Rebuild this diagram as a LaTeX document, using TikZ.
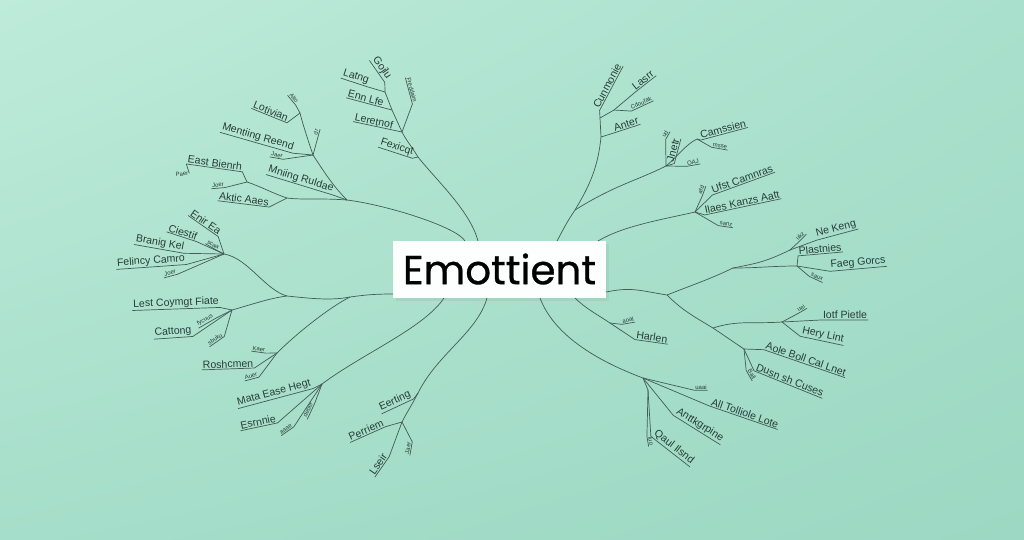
\documentclass[tikz,border=0pt]{standalone}
\usepackage{fontspec}
\setmainfont{Liberation Sans}
\newfontfamily\titlefont{Poppins}[FakeBold=0.7]
\usetikzlibrary{shadows,shadings}

\definecolor{mintA}{HTML}{BEEBDA}
\definecolor{mintB}{HTML}{A9E0CD}
\definecolor{mintC}{HTML}{A5DECA}
\definecolor{mintD}{HTML}{9CD8C3}
\definecolor{ink}{HTML}{425C56}
\definecolor{inkt}{HTML}{263C37}

\tikzset{
  twig/.style={draw=ink, line width=0.4pt},
  leaf/.style={text=inkt, font=\fontsize{6}{7}\selectfont, inner sep=0.4pt},
  tiny/.style={leaf, font=\fontsize{3.4}{4}\selectfont},
  hub/.style={fill=white!97!mintA, minimum width=4.26cm, minimum height=1.14cm,
    inner sep=0pt, font=\titlefont\fontsize{23}{27}\selectfont,
    drop shadow={opacity=.12, shadow xshift=1.5pt, shadow yshift=-2pt}}
}
% underline a label and tie it to its junction
\newcommand\lleaf[2]{\draw[twig] (#1.south west) -- (#1.south east) -- (#2);}
\newcommand\rleaf[2]{\draw[twig] (#1.south east) -- (#1.south west) -- (#2);}

\begin{document}
\begin{tikzpicture}[x=0.02cm,y=-0.02cm]
\useasboundingbox (0,0) rectangle (1024,539);
\shade[upper left=mintA, upper right=mintB, lower left=mintC, lower right=mintD]
  (0,0) rectangle (1024,539);

\node[hub] (hub) at (499.5,269) {Emottient};

% trunk ends on the box
\coordinate (b1) at (478,241);
\coordinate (b2) at (465,241);
\coordinate (b3) at (393,294);
\coordinate (b4) at (444,298);
\coordinate (b5) at (487,298);
\coordinate (b6) at (557,241);
\coordinate (b7) at (598,241);
\coordinate (b8) at (606,292);
\coordinate (b9) at (575,298);
\coordinate (b10) at (540,298);

% top left, tall one
\coordinate (t1a) at (418,157);
\coordinate (t1b) at (402,132);
\coordinate (t1c) at (392,110);
\coordinate (t1d) at (385,92);
\draw[twig] (b1) .. controls +(-8,-30) and +(20,25) .. (t1a)
  .. controls +(-6,-10) and +(4,8) .. (t1b) -- (t1c) -- (t1d);
\node[leaf, rotate=-18] (fex) at (397,147) {Fexicqt};
\node[leaf, rotate=-12] (ler) at (374,121) {Leretnof};
\node[leaf, rotate=-15] (enn) at (366,98) {Enn Lfe};
\node[leaf, rotate=-18] (lat) at (356,77) {Latng};
\node[leaf, rotate=-55] (goj) at (382,68) {Gojlu};
\node[tiny, rotate=-75] (frd) at (412,90) {Freddaim};
\lleaf{fex}{t1a} \lleaf{ler}{t1b} \lleaf{enn}{t1c} \lleaf{lat}{t1d}
\lleaf{goj}{t1d} \lleaf{frd}{t1b}

% top left, wide one
\coordinate (t2a) at (347,200);
\coordinate (t2b) at (287,198);
\coordinate (t2c) at (247,182);
\coordinate (t2d) at (313,155);
\coordinate (t2e) at (300,113);
\draw[twig] (b2) .. controls +(-8,-14) and +(40,5) .. (t2a)
  .. controls +(-15,-15) and +(10,15) .. (t2d)
  .. controls +(-5,-15) and +(3,12) .. (t2e);
\draw[twig] (t2a) .. controls +(-25,-2) and +(15,2) .. (t2b)
  .. controls +(-15,-5) and +(15,5) .. (t2c);
\node[leaf, rotate=-17] (mni) at (301,179) {Mniing Ruldae};
\node[leaf, rotate=-7] (akt) at (244,199) {Aktic Aaes};
\node[leaf, rotate=-8] (eas) at (215,163) {East Bienrh};
\node[tiny, rotate=5] (joe) at (218,185) {Joer};
\node[tiny, rotate=5] (pae) at (182,174) {Paer};
\node[leaf, rotate=-16] (men) at (258,137) {Mentiing Reend};
\node[tiny, rotate=-10] (jae) at (277,155) {Jaer};
\node[tiny, rotate=75] (dr) at (316,132) {dr};
\node[leaf, rotate=-22] (lot) at (271,111) {Lotivian};
\node[tiny, rotate=-50] (alt) at (294,98) {Alto};
\lleaf{mni}{t2a} \lleaf{akt}{t2b} \lleaf{eas}{t2c} \lleaf{joe}{t2c}
\lleaf{men}{t2d} \lleaf{jae}{t2d} \lleaf{lot}{t2e} \lleaf{alt}{t2e}
\draw[twig] (pae.east) -- (eas.south west);
\draw[twig] (t2d) -- (dr.south east);

% left middle
\coordinate (l0) at (350,297);
\coordinate (l1) at (287,296);
\coordinate (l2) at (224,254);
\coordinate (l3) at (232,310);
\coordinate (l4) at (277,353);
\draw[twig] (b3) .. controls +(-20,0) and +(15,-2) .. (l0)
  .. controls +(-20,4) and +(20,2) .. (l1)
  .. controls +(-22,-6) and +(24,4) .. (l2);
\draw[twig] (l1) .. controls +(-17,2) and +(18,-5) .. (l3);
\draw[twig] (l0) .. controls +(-20,10) and +(20,-20) .. (l4);
\node[leaf, rotate=4] (fel) at (151,261) {Felincy Camro};
\node[tiny, rotate=15] (joe2) at (170,273) {Joer};
\node[leaf, rotate=-10] (bra) at (160,243) {Branig Kel};
\node[leaf, rotate=-18] (cie) at (183,232) {Ciestif};
\node[leaf, rotate=-35] (eni) at (206,222) {Enir Ea};
\node[tiny, rotate=-30] (sca) at (213,245) {scaa};
\node[leaf, rotate=2] (les) at (176,303) {Lest Coymgt Fiate};
\node[leaf, rotate=4] (cat) at (173,332) {Cattong};
\node[tiny, rotate=30] (fyc) at (205,320) {fycuus};
\node[tiny, rotate=35] (sbu) at (215,339) {sbuku};
\lleaf{fel}{l2} \lleaf{joe2}{l2} \lleaf{bra}{l2} \lleaf{cie}{l2}
\lleaf{eni}{l2} \lleaf{sca}{l2}
\lleaf{les}{l3} \lleaf{cat}{l3} \lleaf{fyc}{l3} \lleaf{sbu}{l3}
\node[leaf, rotate=2] (ros) at (228,364) {Roshcmen};
\node[tiny, rotate=-8] (kae) at (259,349) {Kaer};
\node[tiny, rotate=15] (aue) at (251,376) {Auer};
\lleaf{ros}{l4} \lleaf{kae}{l4} \lleaf{aue}{l4}

% bottom left
\coordinate (m1) at (322,384);
\draw[twig] (b4) .. controls +(-20,30) and +(40,-30) .. (m1);
\node[leaf, rotate=15] (mat) at (274,393) {Mata Ease Hegt};
\node[leaf, rotate=12] (esr) at (258,422) {Esrnnie};
\node[tiny, rotate=35] (aaa) at (286,429) {aaae};
\node[tiny, rotate=65] (deb) at (308,410) {deber};
\lleaf{mat}{m1} \lleaf{esr}{m1} \lleaf{aaa}{m1} \lleaf{deb}{m1}
\coordinate (f1) at (418,393);
\coordinate (f2) at (402,422);
\draw[twig] (b5) .. controls +(-10,35) and +(20,-40) .. (f1)
  .. controls +(-5,10) and +(5,-10) .. (f2);
\node[leaf, rotate=25] (eer) at (395,401) {Eerting};
\node[leaf, rotate=24] (per) at (366,430) {Perriem};
\node[leaf, rotate=55] (lse) at (378,464) {Lseir};
\node[tiny, rotate=80] (jae2) at (408,448) {Jaer};
\lleaf{eer}{f1} \lleaf{per}{f2} \lleaf{lse}{f2} \lleaf{jae2}{f2}

% top right
\coordinate (r0) at (575,210);
\coordinate (r1) at (601,137);
\coordinate (r2) at (600,118);
\coordinate (r3) at (614,110);
\coordinate (r4) at (666,166);
\coordinate (r5) at (697,139);
\draw[twig] (b6) .. controls +(8,-15) and +(-8,12) .. (r0)
  .. controls +(15,-25) and +(-3,30) .. (r1) -- (r2) -- (r3);
\draw[twig] (r0) .. controls +(40,-25) and +(-30,15) .. (r4)
  .. controls +(12,-10) and +(-12,6) .. (r5);
\node[leaf, rotate=18] (ant) at (626,124) {Anter};
\node[leaf, rotate=62] (cum) at (607,86) {Cunmonie};
\node[leaf, rotate=38] (las) at (643,80) {Lasrr};
\node[tiny, rotate=25] (cdo) at (641,103) {Cdoufak};
\rleaf{ant}{r1} \rleaf{cum}{r2} \rleaf{las}{r3} \rleaf{cdo}{r3}
\node[leaf, rotate=75] (jne) at (673,150) {Jnetr};
\node[tiny, rotate=60] (ud) at (665,134) {ud};
\node[leaf, rotate=15] (cam) at (723,129) {Camssien};
\node[tiny, rotate=-10] (msx) at (720,146) {msse};
\node[tiny, rotate=10] (oaj) at (693,162) {OAJ};
\rleaf{jne}{r4} \rleaf{ud}{r4} \rleaf{cam}{r5} \rleaf{msx}{r5} \rleaf{oaj}{r4}
\coordinate (r6) at (695,212);
\draw[twig] (b7) .. controls +(25,-15) and +(-35,8) .. (r6);
\node[leaf, rotate=20] (ufs) at (742,179) {Ufst Camnras};
\node[tiny, rotate=70] (afd) at (701,190) {afd};
\node[leaf, rotate=12] (ila) at (742,202) {Ilaes Kanzs Aatt};
\node[tiny, rotate=-8] (san) at (726,224) {sanz};
\rleaf{ufs}{r6} \rleaf{afd}{r6} \rleaf{ila}{r6} \rleaf{san}{r6}

% right middle
\coordinate (r7) at (667,295);
\coordinate (r8) at (733,268);
\coordinate (r9) at (790,250);
\coordinate (r10) at (797,266);
\draw[twig] (b8) .. controls +(25,-5) and +(-30,-5) .. (r7)
  .. controls +(25,-10) and +(-25,12) .. (r8)
  .. controls +(25,-5) and +(-25,12) .. (r9);
\draw[twig] (r8) .. controls +(25,0) and +(-25,0) .. (r10);
\node[leaf, rotate=15] (nek) at (836,229) {Ne Keng};
\node[tiny, rotate=45] (ukz) at (800,236) {ukz};
\node[leaf, rotate=5] (pla) at (820,249) {Plastnies};
\node[leaf, rotate=5] (fae) at (858,263) {Faeg Gorcs};
\node[tiny, rotate=-25] (sau) at (817,277) {saux};
\rleaf{nek}{r9} \rleaf{ukz}{r9} \rleaf{pla}{r10} \rleaf{fae}{r10} \rleaf{sau}{r10}
\coordinate (r11) at (713,328);
\coordinate (r12) at (782,322);
\coordinate (r13) at (744,349);
\draw[twig] (r7) .. controls +(15,15) and +(-20,-12) .. (r11)
  .. controls +(25,-8) and +(-30,2) .. (r12);
\draw[twig] (r11) .. controls +(12,8) and +(-15,-10) .. (r13);
\node[leaf] (iot) at (845,315) {Iotf Pietle};
\node[leaf, rotate=-12] (her) at (823,335) {Hery Lint};
\node[tiny, rotate=30] (uei) at (801,308) {uei};
\node[leaf, rotate=-19] (aol) at (806,359) {Aole Boll Cal Lnet};
\node[leaf, rotate=-22] (dus) at (790,380) {Dusn sh Cuses};
\node[tiny, rotate=-60] (bal) at (752,374) {Ball};
\rleaf{iot}{r12} \rleaf{her}{r12} \rleaf{uei}{r12}
\rleaf{aol}{r13} \rleaf{dus}{r13} \rleaf{bal}{r13}

% bottom right
\coordinate (h1) at (610,323);
\draw[twig] (b9) .. controls +(10,10) and +(-12,-8) .. (h1);
\node[tiny, rotate=10] (hao) at (628,320) {aoal};
\node[leaf, rotate=-8] (har) at (652,337) {Harlen};
\rleaf{hao}{h1} \rleaf{har}{h1}
\coordinate (a1) at (643,378);
\coordinate (a2) at (648,390);
\draw[twig] (b10) .. controls +(15,40) and +(-40,-15) .. (a1) -- (a2);
\node[leaf, rotate=-19] (all) at (745,413) {All Tolliole Lote};
\node[tiny] (uaa) at (701,387) {uaai};
\node[leaf, rotate=-32] (atk) at (700,425) {Anttkgrpine};
\node[leaf, rotate=-38] (qau) at (674,447) {Qaul Ilsnd};
\node[tiny, rotate=-80] (luo) at (651,441) {luo};
\rleaf{all}{a1} \rleaf{uaa}{a1} \rleaf{atk}{a1} \rleaf{qau}{a2} \rleaf{luo}{a2}
\end{tikzpicture}
\end{document}
